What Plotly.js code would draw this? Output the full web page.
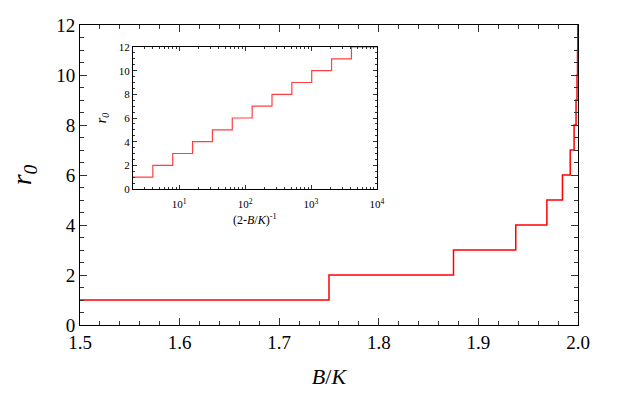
<!DOCTYPE html>
<html><head><meta charset="utf-8">
<script src="https://cdn.plot.ly/plotly-3.0.1.min.js"></script>
<style>html,body{margin:0;padding:0;background:#fff}</style>
</head><body><div id="chart" style="width:623px;height:393px"></div>
<script>
// Main panel: step function r0 vs B/K
const mainBK = [1.5, 1.75, 1.875, 1.9375, 1.96875, 1.984375, 1.9921875, 1.99609375, 1.998046875, 1.9990234375, 1.99951171875, 1.999755859375, 2.0];
const mainR0 = [1, 2, 3, 4, 5, 6, 7, 8, 9, 10, 11, 12, 12];
// Inset: r0 vs (2-B/K)^-1
const insetX = [2, 4, 8, 16, 32, 64, 128, 256, 512, 1024, 2048, 4096, 10000];
const insetR0 = [1, 2, 3, 4, 5, 6, 7, 8, 9, 10, 11, 12, 12];
const insetTickVals = [10, 100, 1000, 10000];
const insetTickText = ['10<sup>1</sup>', '10<sup>2</sup>', '10<sup>3</sup>', '10<sup>4</sup>'];

const FONT = '"Liberation Serif", "DejaVu Serif", serif';
const axCommon = {
  showline: true, linecolor: '#000', linewidth: 1, mirror: 'allticks',
  ticks: 'inside', tickcolor: '#333', showgrid: false, zeroline: false
};

const data = [
  {x: mainBK, y: mainR0, mode: 'lines', line: {shape: 'hv', color: '#ff0000', width: 1.5}, xaxis: 'x', yaxis: 'y', hoverinfo: 'skip'},
  {x: insetX, y: insetR0, mode: 'lines', line: {shape: 'hv', color: '#ff4040', width: 1.2}, xaxis: 'x2', yaxis: 'y2', hoverinfo: 'skip'}
];

const layout = {
  width: 623, height: 393,
  margin: {l: 80, r: 45, t: 25, b: 68},
  paper_bgcolor: '#fff', plot_bgcolor: '#fff',
  showlegend: false,
  font: {family: FONT, color: '#000'},
  xaxis: Object.assign({}, axCommon, {
    domain: [0, 1], range: [1.5, 2.0], dtick: 0.1, tick0: 1.5, tickformat: '.1f',
    ticklen: 7, tickfont: {size: 19, family: FONT},
    minor: {ticks: 'inside', dtick: 0.02, ticklen: 4, tickcolor: '#333'},
    title: {text: '<i>B</i>/<i>K</i>', font: {size: 22, family: FONT}, standoff: 16}
  }),
  yaxis: Object.assign({}, axCommon, {
    domain: [0, 1], range: [0, 12], dtick: 2, tick0: 0,
    ticklen: 7, tickfont: {size: 19, family: FONT},
    minor: {ticks: 'inside', dtick: 0.5, ticklen: 4, tickcolor: '#333'},
    title: {text: '<i>r<sub>0</sub></i>', font: {size: 28, family: FONT}, standoff: 16}
  }),
  xaxis2: Object.assign({}, axCommon, {
    domain: [0.1064, 0.5964], anchor: 'y2', type: 'log',
    range: [Math.log10(2), 4],
    tickmode: 'array', tickvals: insetTickVals, ticktext: insetTickText,
    ticklen: 4, tickfont: {size: 11, family: FONT}, ticklabelstandoff: 5,
    minor: {ticks: 'inside', dtick: 'D1', ticklen: 2, tickcolor: '#333'}
  }),
  yaxis2: Object.assign({}, axCommon, {
    domain: [0.4533, 0.9267], anchor: 'x2', range: [0, 12], dtick: 2, tick0: 0,
    ticklen: 4, tickfont: {size: 11, family: FONT},
    minor: {ticks: 'inside', dtick: 0.5, ticklen: 2, tickcolor: '#333'},
    title: {text: '<i>r<sub>0</sub></i>', font: {size: 14, family: FONT}, standoff: 8}
  }),
  annotations: [{
    text: '(2-<i>B</i>/<i>K</i>)<sup>-1</sup>', font: {size: 12, family: FONT, color: '#000'},
    xref: 'x2 domain', x: 0.5, yref: 'paper', y: 0.353, yanchor: 'middle', showarrow: false
  }]
};

Plotly.newPlot('chart', data, layout, {staticPlot: true, displayModeBar: false});
</script></body></html>
